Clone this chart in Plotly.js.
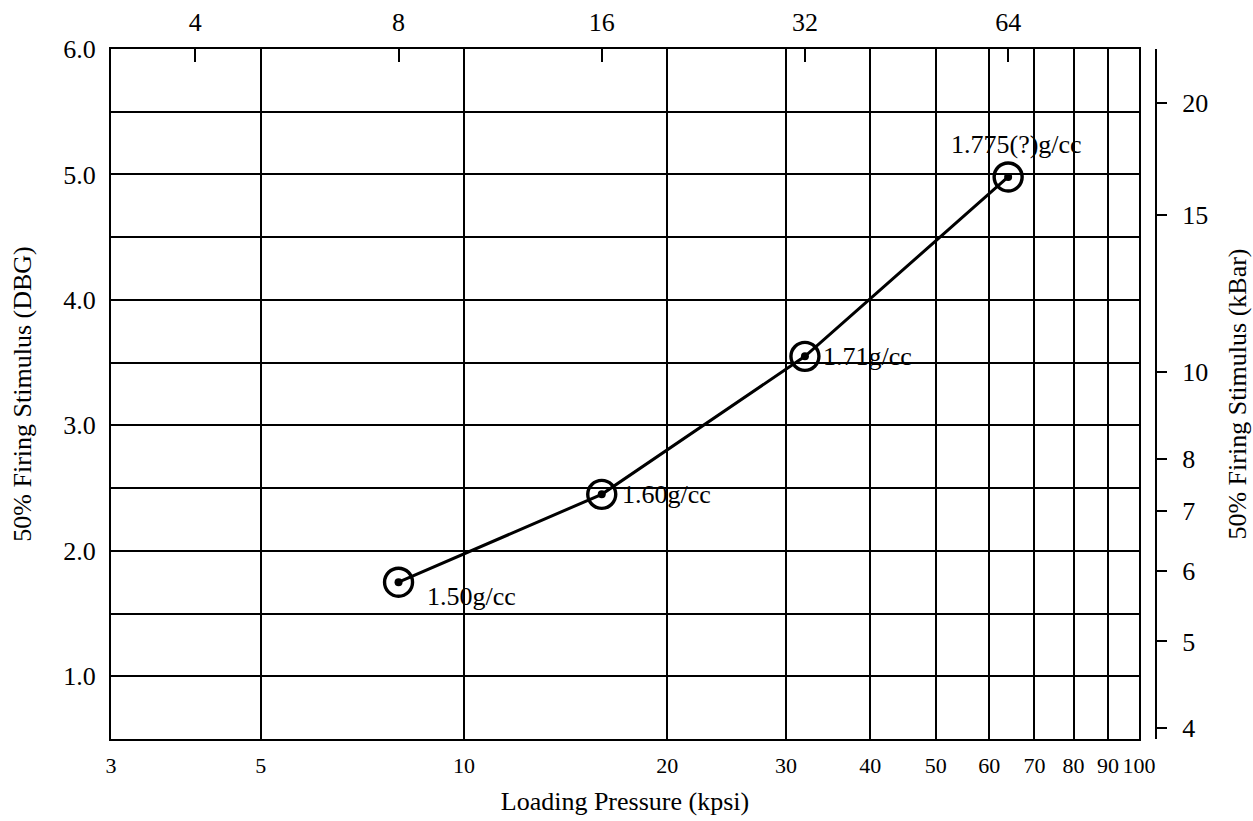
<!DOCTYPE html>
<html>
<head>
<meta charset="utf-8">
<script src="https://cdn.plot.ly/plotly-3.0.1.min.js"></script>
<style>
  html, body { margin: 0; padding: 0; background: #ffffff; }
  #chart { width: 1253px; height: 821px; }
</style>
</head>
<body>
<div id="chart"></div>
<script>
// ---- data ----
const pressureKpsi = [8, 16, 32, 64];
const stimulusDBG = [1.75, 2.45, 3.55, 4.98];
const densityLabels = ['1.50g/cc', '1.60g/cc', '1.71g/cc', '1.775(?)g/cc'];

const bottomTicks = [3, 5, 10, 20, 30, 40, 50, 60, 70, 80, 90, 100];
const topTicks = [4, 8, 16, 32, 64];
const leftTicks = [1, 2, 3, 4, 5, 6];
const rightTicksKbar = [4, 5, 6, 7, 8, 10, 15, 20];

// DBG = intercept + slope * log10(kBar) 
const calSlope = 7.127;
const calIntercept = -3.704;

// ---- styling / placement (not data) ----
const FONT = 'Liberation Serif, Times New Roman, serif';
const FS = 26;
const leftRange = [0.5, 6.0];
const xRange = [Math.log10(3), Math.log10(100)];
const rightRange = leftRange.map(d => (d - calIntercept) / calSlope);
const labelOffsets = [
  {xanchor: 'left', yanchor: 'middle', ax: 26, ay: -14},
  {xanchor: 'left', yanchor: 'middle', ax: 18, ay: 0},
  {xanchor: 'left', yanchor: 'middle', ax: 16, ay: 0},
  {xanchor: 'center', yanchor: 'bottom', ax: 8, ay: 16}
];

const toKbar = d => Math.pow(10, (d - calIntercept) / calSlope);

const traces = [
  {
    x: pressureKpsi, y: stimulusDBG, mode: 'lines',
    line: {color: '#000', width: 3}, hoverinfo: 'skip', showlegend: false
  },
  {
    x: pressureKpsi, y: stimulusDBG, mode: 'markers',
    marker: {symbol: 'circle-open', size: 28, color: '#000', line: {color: '#000', width: 3.4}},
    showlegend: false
  },
  {
    x: pressureKpsi, y: stimulusDBG, mode: 'markers',
    marker: {symbol: 'circle', size: 8, color: '#000'},
    hoverinfo: 'skip', showlegend: false
  },
  {
    x: pressureKpsi, y: stimulusDBG.map(toKbar), xaxis: 'x2', yaxis: 'y2',
    mode: 'markers', marker: {opacity: 0}, hoverinfo: 'skip', showlegend: false
  }
];

const annotations = densityLabels.map((t, i) => ({
  x: Math.log10(pressureKpsi[i]), y: stimulusDBG[i], xref: 'x', yref: 'y',
  text: t, showarrow: false,
  xanchor: labelOffsets[i].xanchor, yanchor: labelOffsets[i].yanchor,
  xshift: labelOffsets[i].ax, yshift: labelOffsets[i].ay,
  font: {family: FONT, size: FS, color: '#000'}
}));

const axisFont = {family: FONT, size: FS, color: '#000'};

const layout = {
  width: 1253, height: 821,
  margin: {l: 111, r: 97, t: 49, b: 82},
  paper_bgcolor: '#fff', plot_bgcolor: '#fff',
  font: axisFont,
  showlegend: false,
  xaxis: {
    type: 'log', range: xRange, domain: [0, 0.9837],
    tickmode: 'array', tickvals: bottomTicks, ticktext: bottomTicks.map(String),
    tickangle: 0,
    showgrid: true, gridcolor: '#000', gridwidth: 2,
    showline: true, linecolor: '#000', linewidth: 2, mirror: true,
    ticks: '', tickfont: {family: FONT, size: 22, color: '#000'}, zeroline: false,
    ticklabelstandoff: 6,
    title: {text: 'Loading Pressure (kpsi)', font: axisFont, standoff: 14}
  },
  xaxis2: {
    type: 'log', range: xRange, overlaying: 'x', side: 'top', anchor: 'y',
    tickmode: 'array', tickvals: topTicks, ticktext: topTicks.map(String),
    tickangle: 0,
    ticks: 'inside', ticklen: 13, tickwidth: 2, tickcolor: '#000',
    showgrid: false, showline: false, tickfont: axisFont, zeroline: false,
    ticklabelstandoff: 12
  },
  yaxis: {
    range: leftRange,
    tickmode: 'array', tickvals: leftTicks, ticktext: leftTicks.map(v => v.toFixed(1)),
    showgrid: true, gridcolor: '#000', gridwidth: 2,
    minor: {dtick: 0.5, tick0: 0, showgrid: true, gridcolor: '#000', gridwidth: 2, ticks: ''},
    showline: true, linecolor: '#000', linewidth: 2, mirror: true,
    ticks: '', tickfont: axisFont, zeroline: false, ticklabelstandoff: 8,
    title: {text: '50% Firing Stimulus (DBG)', font: axisFont, standoff: 24}
  },
  yaxis2: {
    type: 'log', range: rightRange, overlaying: 'y', side: 'right',
    anchor: 'free', position: 1,
    tickmode: 'array', tickvals: rightTicksKbar, ticktext: rightTicksKbar.map(String),
    ticks: 'outside', ticklen: 10, tickwidth: 2, tickcolor: '#000',
    showline: true, linecolor: '#000', linewidth: 2,
    showgrid: false, zeroline: false, tickfont: axisFont, ticklabelstandoff: 10,
    title: {text: '50% Firing Stimulus (kBar)', font: axisFont, standoff: 20}
  },
  annotations: annotations
};

Plotly.newPlot('chart', traces, layout, {displayModeBar: false, staticPlot: true});
</script>
</body>
</html>
